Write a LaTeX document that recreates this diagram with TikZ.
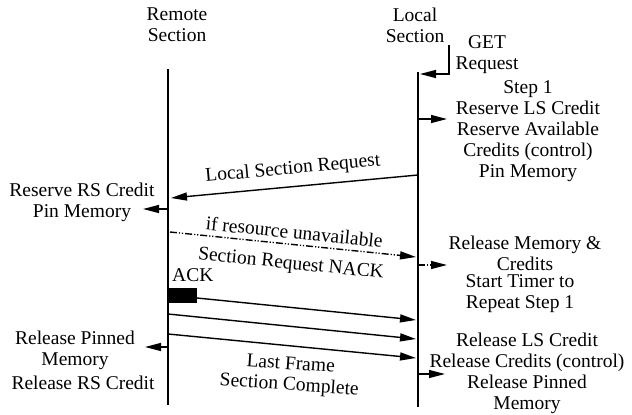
\documentclass[tikz,border=0pt]{standalone}
\usepackage{fontspec}
\setmainfont{Liberation Serif}
\usetikzlibrary{arrows.meta}

\begin{document}
\begin{tikzpicture}[
    x=1pt, y=-1pt,
    every node/.style={font=\fontsize{19.5}{21}\selectfont, inner sep=1pt},
    note/.style={align=center},
    lifeline/.style={line width=1.6pt},
    msg/.style={line width=1.4pt, -{Triangle[length=16pt,width=8pt]}},
    nack/.style={msg, dash pattern=on 7pt off 2pt on 1.2pt off 1.8pt on 1.2pt off 2pt}
  ]
  \useasboundingbox (0,0) rectangle (632,415);

  % lifelines
  \node[note] (remote) at (177,25) {Remote\\Section};
  \node[note] (local) at (415,25) {Local\\Section};
  \coordinate (rtop) at (168,69);
  \coordinate (rbot) at (168,405);
  \coordinate (ltop) at (418,72);
  \coordinate (lbot) at (418,407);
  \draw[lifeline] (rtop) -- (rbot);
  \draw[lifeline] (ltop) -- (lbot);

  % GET request
  \coordinate (gtop) at (449,45);
  \coordinate (gin) at (420,74);
  \node[note] (get) at (487,55) {GET\\Request};
  \draw[msg] (gtop) |- (gin);

  % step 1
  \coordinate (s1from) at (418,119);
  \coordinate (s1to) at (447,119);
  \node[note] (step1) at (528,131) {Step 1\\Reserve LS Credit\\Reserve Available\\Credits (control)\\Pin Memory};
  \draw[msg] (s1from) -- (s1to);

  % request
  \coordinate (req1) at (418,175);
  \coordinate (req2) at (171,198);
  \draw[msg] (req1) -- node[sloped, above=7pt] (reqlbl) {Local Section Request} (req2);
  \coordinate (rsfrom) at (168,209);
  \coordinate (rsto) at (143,209);
  \node[note] (rsnote) at (82,202) {Reserve RS Credit\\Pin Memory};
  \draw[msg] (rsfrom) -- (rsto);

  % nack
  \coordinate (nk1) at (170,232);
  \coordinate (nk2) at (416,257);
  \draw[nack] (nk1) -- node[sloped, above=4pt] (iflbl) {if resource unavailable}
    node[sloped, below=10pt] (nklbl) {Section Request NACK} (nk2);
  \coordinate (nkfrom) at (418,265);
  \coordinate (nkto) at (447,265);
  \node[note] (relmem) at (525,253) {Release Memory \&\\Credits};
  \node[note] (timer) at (520,294) {Start Timer to\\Repeat Step 1};
  \draw[nack] (nkfrom) -- (nkto);

  % ack and frames
  \node[anchor=base west, inner sep=0pt] (acklbl) at (172,281) {ACK};
  \node[fill=black, minimum width=29pt, minimum height=15pt, inner sep=0pt, anchor=north west] (ackbox) at (168,288) {};
  \coordinate (ack1) at (197,298);
  \coordinate (ack2) at (416,320);
  \coordinate (fr1) at (168,314);
  \coordinate (fr2) at (416,339);
  \coordinate (last1) at (168,334);
  \coordinate (last2) at (416,358);
  \draw[msg] (ack1) -- (ack2);
  \draw[msg] (fr1) -- (fr2);
  \draw[msg] (last1) -- node[rotate=-4, below=9pt, note] (lastlbl) {Last Frame\\Section Complete} (last2);

  % release
  \coordinate (rpfrom) at (168,347);
  \coordinate (rpto) at (145,347);
  \node[note] (relpin) at (75,350) {Release Pinned\\Memory};
  \node[note] (relrs) at (83,383) {Release RS Credit};
  \draw[msg] (rpfrom) -- (rpto);
  \coordinate (lsfrom) at (418,374);
  \coordinate (lsto) at (445,374);
  \node[note] (rells) at (527,373) {Release LS Credit\\Release Credits (control)\\Release Pinned\\Memory};
  \draw[msg] (lsfrom) -- (lsto);
\end{tikzpicture}
\end{document}
